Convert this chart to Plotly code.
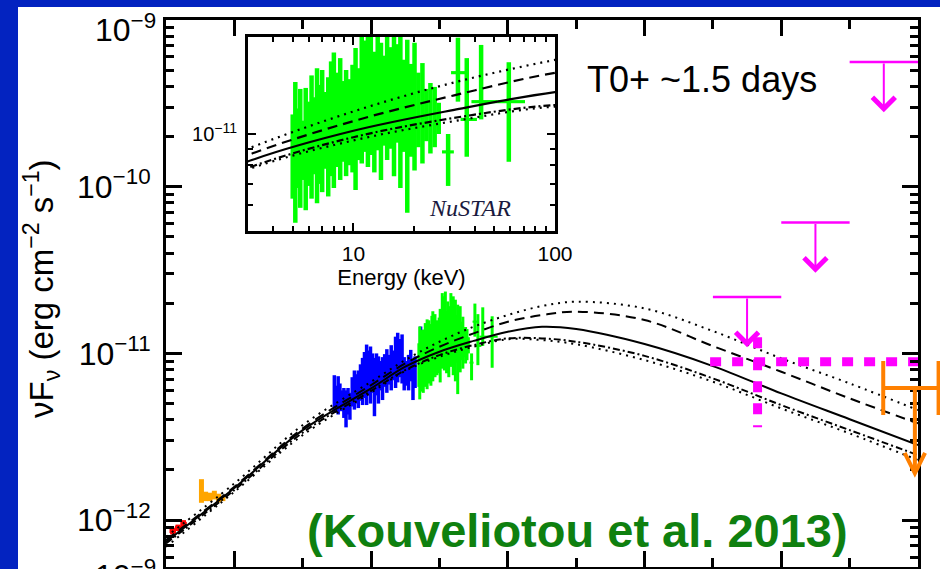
import numpy as np
import plotly.graph_objects as go

W, H = 940, 569

# ---------------- data ----------------
# model curves: log10(E / keV) grid and log10(nuFnu) for the five curves
model_logE = [-3.0, -2.0, -1.0, 0.0, 0.5, 1.0, 1.5, 2.0, 2.5, 3.0, 4.0, 5.0, 6.0, 7.0, 8.0]
model_best = [-12.13, -11.807, -11.46, -11.21, -11.08, -10.99, -10.925, -10.87, -10.84, -10.854, -10.944, -11.076, -11.24, -11.395, -11.55]
model_dash_hi = [-12.12, -11.80, -11.45, -11.19, -11.06, -10.96, -10.88, -10.81, -10.77, -10.75, -10.80, -10.956, -11.11, -11.27, -11.42]
model_dot_hi = [-12.10, -11.78, -11.43, -11.17, -11.04, -10.93, -10.84, -10.77, -10.716, -10.69, -10.73, -10.866, -11.03, -11.18, -11.34]
model_dashdot_lo = [-12.14, -11.82, -11.475, -11.225, -11.10, -11.01, -10.95, -10.91, -10.91, -10.93, -11.015, -11.15, -11.31, -11.46, -11.61]
model_dot_lo = [-12.16, -11.83, -11.49, -11.235, -11.105, -11.02, -10.96, -10.915, -10.92, -10.945, -11.04, -11.17, -11.33, -11.48, -11.64]

# NuSTAR (dense part): energy (keV), flux lower / upper (1e-12 erg cm-2 s-1)
nu_E = [5.0, 5.15, 5.3, 5.45, 5.6, 5.8, 6.0, 6.2, 6.4, 6.6, 6.8, 7.0, 7.25, 7.5, 7.75, 8.0, 8.3, 8.6, 8.9, 9.2,
        9.55, 9.9, 10.25, 10.6, 11.0, 11.4, 11.8, 12.2, 12.7, 13.2, 13.7, 14.2, 14.7, 15.3, 15.9, 16.5, 17.1,
        17.8, 18.5, 19.3, 20.1, 21.0, 22.0, 23.0, 24.1, 25.3, 26.5]
nu_lo = [6.3, 5.3, 6.8, 5.9, 7.2, 5.8, 6.9, 6.3, 7.5, 6.1, 7.0, 6.6, 7.8, 6.4, 7.4, 6.8, 7.9, 7.2, 8.2, 7.4,
         8.0, 7.6, 6.7, 8.3, 8.1, 8.8, 7.9, 8.6, 7.6, 8.9, 7.2, 9.2, 8.3, 9.0, 7.4, 9.4, 6.8,
         8.8, 5.7, 8.5, 7.7, 9.1, 8.1, 9.5, 8.7, 9.1, 10.0]
nu_hi = [11.5, 14.5, 12.0, 13.8, 11.0, 13.9, 12.6, 15.2, 13.0, 16.0, 14.2, 15.8, 13.5, 15.0, 16.8, 17.9, 15.5, 17.2, 14.6, 15.8,
         14.8, 16.4, 18.5, 16.0, 23.0, 19.5, 22.0, 23.5, 18.0, 20.5, 19.2, 17.5, 23.0, 18.6, 22.0, 19.0, 21.0,
         17.0, 19.6, 16.5, 19.2, 15.5, 16.6, 13.8, 14.4, 14.0, 12.5]
# NuSTAR (high-energy, wide bins)
nus_E = [29.5, 33.0, 36.5, 43.0, 59.0]
nus_Elo = [27.5, 30.5, 34.0, 38.5, 52.0]
nus_Ehi = [31.5, 36.0, 41.0, 52.0, 71.0]
nus_F = [8.8, 15.5, 11.1, 12.6, 12.6]
nus_lo = [6.9, 12.6, 8.5, 11.1, 8.2]
nus_hi = [10.0, 19.9, 17.2, 18.9, 16.7]

# Swift XRT
xrt_E = [0.29, 0.31, 0.33, 0.35, 0.37, 0.40, 0.43, 0.46, 0.49, 0.53, 0.57, 0.61, 0.65, 0.70, 0.75, 0.80, 0.86,
         0.92, 0.98, 1.05, 1.12, 1.20, 1.28, 1.37, 1.47, 1.58, 1.70, 1.83, 1.97, 2.12, 2.28, 2.45, 2.64, 2.84,
         3.05, 3.28, 3.53, 3.80, 4.10, 4.40, 5.3]
xrt_lo = [4.4, 4.6, 4.3, 4.9, 4.5, 4.1, 3.6, 4.3, 4.0, 4.8, 4.6, 5.0, 4.7, 5.2, 4.9, 5.4, 4.9, 5.6, 5.0, 5.8,
          4.2, 5.6, 5.0, 6.0, 5.25, 6.3, 5.8, 6.5, 6.0, 6.9, 6.2, 6.7, 7.2, 6.6, 6.0, 6.4, 6.0, 6.8, 5.25, 6.2, 8.0]
xrt_hi = [7.4, 6.4, 7.3, 6.6, 6.0, 6.2, 6.0, 6.2, 5.8, 7.2, 7.9, 7.5, 7.9, 8.6, 9.4, 10.2, 11.3, 10.4, 11.0, 10.0,
          9.4, 10.0, 9.6, 9.0, 9.5, 9.9, 10.6, 9.8, 11.2, 10.4, 12.6, 13.3, 12.2, 13.0, 9.5, 9.0, 9.8, 10.5, 9.2, 9.6, 14.5]

# optical (red) and UVOT (orange)
opt_E = [1.25e-3, 1.5e-3, 1.8e-3]
opt_F = [0.86, 0.90, 0.95]
opt_err = [0.04, 0.04, 0.05]
uvot_E = [3.3e-3, 3.8e-3, 4.4e-3, 5.1e-3, 5.9e-3, 6.8e-3]
uvot_lo = [1.27, 1.30, 1.30, 1.33, 1.28, 1.30]
uvot_hi = [1.76, 1.48, 1.46, 1.50, 1.44, 1.40]

# Fermi-LAT upper limits (keV, erg cm-2 s-1)
lat_E = [3.16e5, 3.16e6, 3.16e7]
lat_Elo = [1e5, 1e6, 1e7]
lat_Ehi = [1e6, 1e7, 1e8]
lat_UL = [2.18e-11, 6.1e-11, 5.6e-10]
# LAT detection (dotted cross)
latd_E, latd_Elo, latd_Ehi = 4.5e5, 9.1e4, 3.0e8
latd_F, latd_lo, latd_hi = 8.9e-12, 3.6e-12, 1.25e-11
# VHE upper limit (orange)
vhe_E, vhe_Elo, vhe_Ehi = 9.0e7, 3.1e7, 2.0e8
vhe_UL = 6.2e-12

UNIT = 1e-12

# ---------------- geometry ----------------
def px(xp):
    return xp / W

def py(yp):
    return 1 - yp / H

main_xd = [px(166), px(918)]
main_xr = [-3.0, 8.0]
main_yd = [py(567), py(20)]
main_yr = [-12.2813, -9.0]
ins_xd = [px(248), px(555)]
ins_yd = [py(231), py(37)]
ins_xr = [np.log10(3.0), 2.0]
ins_yr = [np.log10(5e-12), np.log10(2e-11)]
k = (main_xr[1] - main_xr[0]) / (main_xd[1] - main_xd[0])
ov_xd = [0.9, 1.0]
ov_xr = [main_xr[0] + (ov_xd[0] - main_xd[0]) * k, main_xr[0] + (ov_xd[1] - main_xd[0]) * k]

fig = go.Figure()
INV = dict(size=1, color="rgba(0,0,0,0)")


def errbar_trace(E, lo, hi, color, thick, xa="x", ya="y", unit=UNIT):
    lo = np.array(lo) * unit
    hi = np.array(hi) * unit
    c = (lo + hi) / 2
    return go.Scatter(x=E, y=c, mode="markers", marker=INV, xaxis=xa, yaxis=ya,
                      error_y=dict(type="data", array=hi - c, arrayminus=c - lo, width=0,
                                   thickness=thick, color=color),
                      hoverinfo="skip", showlegend=False)


def sparse_trace(xa, ya, thick):
    F = np.array(nus_F) * UNIT
    return go.Scatter(x=nus_E, y=F, mode="markers", marker=INV, xaxis=xa, yaxis=ya,
                      error_y=dict(type="data", array=np.array(nus_hi) * UNIT - F,
                                   arrayminus=F - np.array(nus_lo) * UNIT, width=0,
                                   thickness=thick, color="#00FF00"),
                      error_x=dict(type="data", array=np.array(nus_Ehi) - np.array(nus_E),
                                   arrayminus=np.array(nus_E) - np.array(nus_Elo), width=0,
                                   thickness=thick * 0.7, color="#00FF00"),
                      hoverinfo="skip", showlegend=False)


def model_traces(xa, ya, w):
    E = 10 ** np.array(model_logE)
    styles = [(model_dot_hi, "2px,5px"), (model_dash_hi, "10px,6px"), (model_best, "solid"),
              (model_dashdot_lo, "7px,3px,2px,3px"), (model_dot_lo, "2px,5px")]
    out = []
    for arr, d in styles:
        out.append(go.Scatter(x=E, y=10 ** np.array(arr), mode="lines", xaxis=xa, yaxis=ya,
                              line=dict(color="black", width=w, dash=d, shape="spline", smoothing=1.0),
                              hoverinfo="skip", showlegend=False))
    return out


# ---- main panel ----
optF = np.array(opt_F) * UNIT
fig.add_trace(go.Scatter(x=opt_E, y=optF, mode="markers", marker=INV,
                         error_y=dict(type="data", array=np.array(opt_err) * UNIT, width=0, thickness=5, color="#FF0000"),
                         error_x=dict(type="data", array=np.array(opt_E) * 0.12, arrayminus=np.array(opt_E) * 0.1,
                                      width=0, thickness=4, color="#FF0000"),
                         hoverinfo="skip", showlegend=False))
fig.add_trace(errbar_trace(uvot_E, uvot_lo, uvot_hi, "#FFA500", 5))
fig.add_trace(errbar_trace(xrt_E, xrt_lo, xrt_hi, "#0000FF", 3.5))
fig.add_trace(errbar_trace(nu_E, nu_lo, nu_hi, "#00FF00", 3))
fig.add_trace(sparse_trace("x", "y", 3))
for t in model_traces("x", "y", 2):
    fig.add_trace(t)

# LAT dotted cross
fig.add_trace(go.Scatter(x=[latd_Elo, latd_Ehi], y=[latd_F, latd_F], mode="lines",
                         line=dict(color="#FF00FF", width=9, dash="11px,11px"), hoverinfo="skip", showlegend=False))
fig.add_trace(go.Scatter(x=[latd_E, latd_E], y=[latd_hi, latd_lo], mode="lines",
                         line=dict(color="#FF00FF", width=9, dash="11px,11px"), hoverinfo="skip", showlegend=False))
# LAT upper-limit bars
fig.add_trace(go.Scatter(x=lat_E, y=lat_UL, mode="markers", marker=INV,
                         error_x=dict(type="data", array=np.array(lat_Ehi) - np.array(lat_E),
                                      arrayminus=np.array(lat_E) - np.array(lat_Elo), width=0,
                                      thickness=2.5, color="#FF00FF"),
                         hoverinfo="skip", showlegend=False))
# VHE upper limit (overflow subplot so it can pass the frame)
fig.add_trace(go.Scatter(x=[vhe_E], y=[vhe_UL], mode="markers", marker=INV, xaxis="x4", yaxis="y4",
                         error_x=dict(type="data", array=[vhe_Ehi - vhe_E], arrayminus=[vhe_E - vhe_Elo],
                                      width=27, thickness=4, color="#FF8000"),
                         hoverinfo="skip", showlegend=False))

# ---- inset ----
fig.add_trace(errbar_trace(nu_E, nu_lo, nu_hi, "#00FF00", 4.5, "x2", "y2"))
fig.add_trace(sparse_trace("x2", "y2", 4.5))
for t in model_traces("x2", "y2", 2.2):
    fig.add_trace(t)

# ---------------- axes ----------------
y_major = [1e-12, 1e-11, 1e-10, 1e-9]
y_minor = [m * 10.0 ** e for e in range(-13, -9) for m in range(2, 10)]
x_major = [10.0 ** e for e in range(-2, 9, 2)]
x_minor = [10.0 ** e for e in range(-3, 9, 2)]

axis_common = dict(showline=True, linecolor="black", mirror="ticks", showgrid=False, zeroline=False,
                   ticks="inside", tickcolor="black", automargin=False)

fig.update_layout(
    width=W, height=H, autosize=False,
    margin=dict(l=0, r=0, t=0, b=0, pad=0, autoexpand=False),
    paper_bgcolor="#0323C0", plot_bgcolor="rgba(0,0,0,0)",
    font=dict(family="Liberation Sans, Arial, sans-serif", color="black"),
    showlegend=False,
    xaxis=dict(axis_common, type="log", domain=main_xd, range=main_xr, anchor="y",
               linewidth=3, ticklen=16, tickwidth=3, tickvals=x_major, showticklabels=False,
               minor=dict(tickvals=x_minor, ticks="inside", ticklen=9, tickwidth=3, tickcolor="black")),
    yaxis=dict(axis_common, type="log", domain=main_yd, range=main_yr, anchor="x",
               linewidth=3, ticklen=16, tickwidth=3, tickvals=y_major,
               ticktext=["10<sup>\u221212</sup>", "10<sup>\u221211</sup>", "10<sup>\u221210</sup>", ""],
               tickfont=dict(size=32, family="Liberation Sans, Arial"), ticklabelstandoff=6,
               minor=dict(tickvals=y_minor, ticks="inside", ticklen=8, tickwidth=3, tickcolor="black")),
    xaxis2=dict(axis_common, type="log", domain=ins_xd, range=ins_xr, anchor="y2",
                linewidth=3, ticklen=8, tickwidth=2, tickvals=[10, 100], ticktext=["10", "100"],
                tickfont=dict(size=21), ticklabelstandoff=2,
                minor=dict(tickvals=[4, 5, 6, 7, 8, 9, 20, 30, 40, 50, 60, 70, 80, 90], ticks="inside",
                           ticklen=5, tickwidth=2, tickcolor="black"),
                title=dict(text="Energy (keV)", font=dict(size=22), standoff=2)),
    yaxis2=dict(axis_common, type="log", domain=ins_yd, range=ins_yr, anchor="x2",
                linewidth=3, ticklen=8, tickwidth=2, tickvals=[1e-11], ticktext=["10<sup>\u221211</sup>"],
                tickfont=dict(size=20), ticklabelstandoff=4,
                minor=dict(tickvals=[6e-12, 7e-12, 8e-12, 9e-12], ticks="inside", ticklen=5, tickwidth=2,
                           tickcolor="black")),
    xaxis4=dict(type="log", domain=ov_xd, range=ov_xr, anchor="y4", visible=False, automargin=False),
    yaxis4=dict(type="log", domain=main_yd, range=main_yr, anchor="x4", visible=False, automargin=False),
)

# white panel
fig.add_shape(type="rect", xref="paper", yref="paper", x0=px(18), x1=1.05, y0=-0.05, y1=py(7),
              fillcolor="white", line=dict(width=0), layer="below")

ann = []
# upper-limit arrows (LAT)
for E, ul in zip(lat_E, lat_UL):
    ann.append(dict(xref="x", yref="y", axref="x", ayref="y", x=np.log10(E), y=np.log10(ul * 0.5),
                    ax=np.log10(E), ay=np.log10(ul), text="", showarrow=True, arrowhead=4,
                    arrowwidth=2, arrowsize=2.2, arrowcolor="#FF00FF"))
# VHE arrow
ann.append(dict(xref="x4", yref="y4", axref="x4", ayref="y4", x=np.log10(vhe_E), y=np.log10(vhe_UL * 0.29),
                ax=np.log10(vhe_E), ay=np.log10(vhe_UL), text="", showarrow=True, arrowhead=5,
                arrowwidth=4, arrowsize=1.0, arrowcolor="#FF8000"))
# top tick label (drawn lower, as in the figure) and next panel's label
ann.append(dict(xref="paper", yref="paper", x=px(158), y=py(28), xanchor="right", yanchor="middle",
                text="10<sup>\u22129</sup>", showarrow=False, font=dict(size=32)))
ann.append(dict(xref="paper", yref="paper", x=px(158), y=py(574), xanchor="right", yanchor="middle",
                text="10<sup>\u22129</sup>", showarrow=False, font=dict(size=32)))
# y axis title
ann.append(dict(xref="paper", yref="paper", x=px(41), y=py(289), xanchor="center", yanchor="middle",
                textangle=-90, showarrow=False, font=dict(size=33),
                text="\u03bdF<sub>\u03bd</sub> (erg cm<sup>\u22122</sup> s<sup>\u22121</sup>)"))
ann.append(dict(xref="paper", yref="paper", x=px(585), y=py(80), xanchor="left", yanchor="middle",
                text="T0+ ~1.5 days", showarrow=False, font=dict(size=36)))
ann.append(dict(xref="paper", yref="paper", x=px(577), y=py(530), xanchor="center", yanchor="middle",
                text="<b>(Kouveliotou et al. 2013)</b>", showarrow=False,
                font=dict(size=47, color="#0F800F", family="Liberation Sans, Arial")))
ann.append(dict(xref="paper", yref="paper", x=px(470), y=py(208), xanchor="center", yanchor="middle",
                text="<i>NuSTAR</i>", showarrow=False,
                font=dict(size=24, color="#1A1A40", family="Liberation Serif, Times New Roman, serif")))
fig.update_layout(annotations=ann)

fig.write_html("out.html", config={"responsive": False})
